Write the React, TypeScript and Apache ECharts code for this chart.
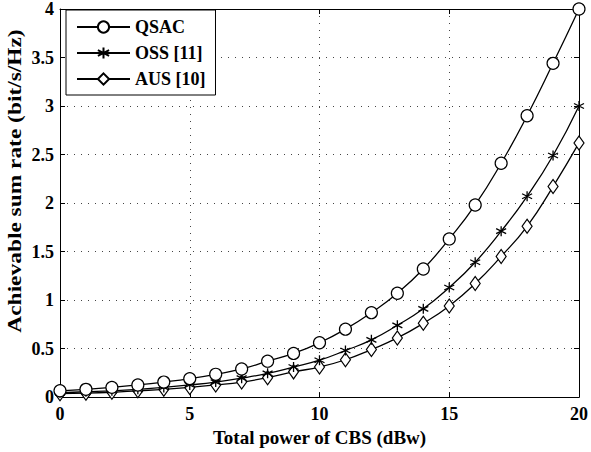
import React, { useEffect, useRef } from "react";
import * as echarts from "echarts";

const powerDbw = [0, 1, 2, 3, 4, 5, 6, 7, 8, 9, 10, 11, 12, 13, 14, 15, 16, 17, 18, 19, 20];
const qsac = [0.065, 0.08, 0.1, 0.125, 0.155, 0.19, 0.235, 0.29, 0.37, 0.45, 0.56, 0.7, 0.87, 1.07, 1.32, 1.63, 1.98, 2.41, 2.9, 3.44, 4.0];
const oss = [0.045, 0.055, 0.065, 0.08, 0.1, 0.125, 0.155, 0.195, 0.245, 0.31, 0.38, 0.48, 0.59, 0.74, 0.91, 1.13, 1.39, 1.71, 2.07, 2.49, 3.0];
const aus = [0.035, 0.04, 0.05, 0.065, 0.08, 0.1, 0.125, 0.155, 0.2, 0.26, 0.31, 0.385, 0.49, 0.61, 0.76, 0.94, 1.17, 1.45, 1.76, 2.17, 2.62];
const seriesNames = ["QSAC", "OSS [11]", "AUS [10]"];
const yAxisTitle = "Achievable sum rate (bit/s/Hz)";
const xAxisTitle = "Total power of CBS (dBw)";

const FONT = "'Liberation Serif', 'Times New Roman', serif";
const ASTERISK = "path://M5,0 L5,10 M0.7,2.5 L9.3,7.5 M0.7,7.5 L9.3,2.5";

export default function App() {
  const ref = useRef<HTMLDivElement>(null);
  useEffect(() => {
    document.body.style.margin = "0";
    if (!ref.current) return;
    const chart = echarts.init(ref.current, undefined, { renderer: "svg" });
    const mk = (arr: number[]) => arr.map((v, i) => [powerDbw[i], v]);
    const tickStyle = { show: true, inside: true, length: 5, lineStyle: { color: "#000", width: 1 } };
    const base = {
      type: "line" as const,
      smooth: true,
      lineStyle: { color: "#000", width: 1.3 },
      itemStyle: { color: "#fff", borderColor: "#000", borderWidth: 1.2 },
      color: "#000",
      showAllSymbol: true,
    };
    chart.setOption({
      animation: false,
      backgroundColor: "#fff",
      textStyle: { fontFamily: FONT },
      grid: { left: 60, right: 9, top: 8, bottom: 53, show: false },
      graphic: [
        {
          type: "text",
          x: 15,
          y: 181,
          rotation: Math.PI / 2,
          scaleX: 1.3,
          scaleY: 1,
          style: {
            text: yAxisTitle,
            fontFamily: FONT,
            fontWeight: "bold",
            fontSize: 18,
            fill: "#000",
            align: "center",
            verticalAlign: "middle",
          },
        },
      ],
      legend: {
        orient: "vertical",
        left: 66,
        top: 10,
        padding: [8, 10, 7, 10],
        itemGap: 8,
        itemWidth: 53,
        itemHeight: 14,
        borderColor: "#000",
        borderWidth: 1,
        backgroundColor: "#fff",
        textStyle: { fontFamily: FONT, fontWeight: "bold", fontSize: 18, color: "#000" },
        data: seriesNames,
      },
      xAxis: [
        {
          type: "value",
          min: 0,
          max: 20,
          interval: 5,
          name: xAxisTitle,
          nameLocation: "middle",
          nameGap: 28,
          nameTextStyle: { fontFamily: FONT, fontWeight: "bold", fontSize: 19, color: "#000" },
          axisLine: { show: true, onZero: false, lineStyle: { color: "#000", width: 1 } },
          axisTick: tickStyle,
          axisLabel: { fontFamily: FONT, fontWeight: "bold", fontSize: 18, color: "#000", margin: 8 },
          splitLine: { show: true, lineStyle: { color: "#444", type: [1, 6], width: 1 } },
        },
        {
          type: "value",
          position: "top",
          min: 0,
          max: 20,
          interval: 5,
          axisLine: { show: true, onZero: false, lineStyle: { color: "#000", width: 1 } },
          axisTick: tickStyle,
          axisLabel: { show: false },
          splitLine: { show: false },
        },
      ],
      yAxis: [
        {
          type: "value",
          min: 0,
          max: 4,
          interval: 0.5,
          axisLine: { show: true, onZero: false, lineStyle: { color: "#000", width: 1 } },
          axisTick: tickStyle,
          axisLabel: { fontFamily: FONT, fontWeight: "bold", fontSize: 18, color: "#000", margin: 6 },
          splitLine: { show: true, lineStyle: { color: "#444", type: [1, 6], width: 1 } },
        },
        {
          type: "value",
          position: "right",
          min: 0,
          max: 4,
          interval: 0.5,
          axisLine: { show: true, onZero: false, lineStyle: { color: "#000", width: 1 } },
          axisTick: tickStyle,
          axisLabel: { show: false },
          splitLine: { show: false },
        },
      ],
      series: [
        { ...base, name: seriesNames[0], data: mk(qsac), symbol: "circle", symbolSize: 12, z: 3 },
        {
          ...base,
          name: seriesNames[1],
          data: mk(oss),
          symbol: ASTERISK,
          symbolSize: 10,
          itemStyle: { color: "none", borderColor: "#000", borderWidth: 1.3 },
          z: 2,
        },
        { ...base, name: seriesNames[2], data: mk(aus), symbol: "diamond", symbolSize: [10, 14], z: 1 },
      ],
    });
    return () => chart.dispose();
  }, []);
  return <div ref={ref} style={{ width: 591, height: 452 }} />;
}
